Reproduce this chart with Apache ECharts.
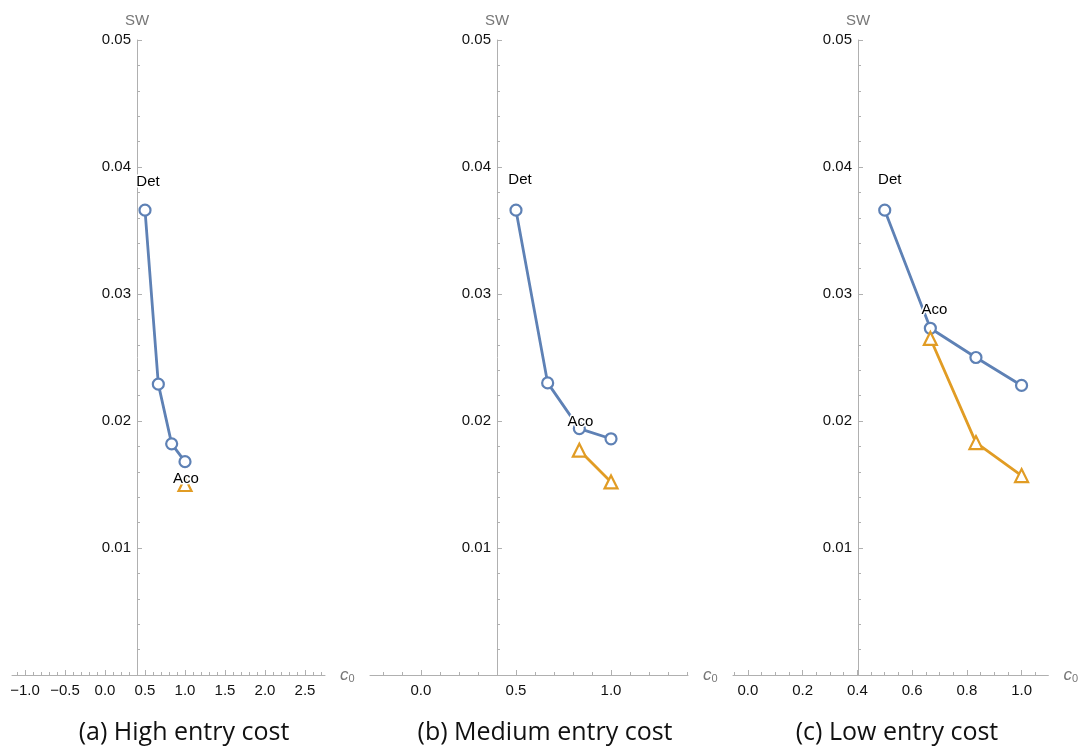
<!DOCTYPE html>
<html><head><meta charset="utf-8">
<script src="https://cdn.jsdelivr.net/npm/echarts@6/dist/echarts.min.js"></script>
<style>html,body{margin:0;padding:0;background:#fff}#c{width:1081px;height:751px}</style>
</head><body><div id="c"></div>
<script>
// ---- data (c0 on x, SW on y) ----
const detC_A = [0.5, 0.6667, 0.8333, 1.0];
const detSW_A = [0.0366, 0.0229, 0.0182, 0.0168];
const acoC_A = [1.0];
const acoSW_A = [0.0150];

const detC_B = [0.5, 0.6667, 0.8333, 1.0];
const detSW_B = [0.0366, 0.0230, 0.0194, 0.0186];
const acoC_B = [0.8333, 1.0];
const acoSW_B = [0.0177, 0.0152];

const detC_C = [0.5, 0.6667, 0.8333, 1.0];
const detSW_C = [0.0366, 0.0273, 0.0250, 0.0228];
const acoC_C = [0.6667, 0.8333, 1.0];
const acoSW_C = [0.0265, 0.0183, 0.0157];

// ---- tick labels ----
const yTickLabels = [0.01, 0.02, 0.03, 0.04, 0.05];
const xMajorA = [-1.0, -0.5, 0.0, 0.5, 1.0, 1.5, 2.0, 2.5];
const xMajorB = [0.0, 0.5, 1.0];
const xMajorC = [0.0, 0.2, 0.4, 0.6, 0.8, 1.0];
const captions = ['(a) High entry cost', '(b) Medium entry cost', '(c) Low entry cost'];
const seriesNames = ['Det', 'Aco'];

// ---- layout / style ----
const BLUE = '#5e81b5', ORANGE = '#e19c24', AXIS = '#b0b0b0', TXT = '#111', NAME = '#777';
const panels = [
  {detC: detC_A, detSW: detSW_A, acoC: acoC_A, acoSW: acoSW_A, major: xMajorA, minorStep: 0.1,
   min: -1.1625, max: 2.75, left: 12, width: 313, detOff: [3, -9], acoOff: [1, 14], cap: 184},
  {detC: detC_B, detSW: detSW_B, acoC: acoC_B, acoSW: acoSW_B, major: xMajorB, minorStep: 0.1,
   min: -0.268, max: 1.405, left: 370, width: 318, detOff: [4, -11], acoOff: [1, -8], cap: 545},
  {detC: detC_C, detSW: detSW_C, acoC: acoC_C, acoSW: acoSW_C, major: xMajorC, minorStep: 0.05,
   min: -0.0545, max: 1.098, left: 733, width: 317, detOff: [5, -11], acoOff: [4, -8], cap: 897}
];
const Y_CROSS = 0.4;
const FONT = 'Liberation Sans';

function minorTicks(min, max, step) {
  const out = [];
  for (let k = Math.ceil(min / step - 1e-9); k * step <= max + 1e-9; k++) out.push(+(k * step).toFixed(4));
  return out;
}
const fmt1 = v => v.toFixed(1).replace('-', '\u2212');

const grid = [], xAxis = [], yAxis = [], series = [], graphic = [];
panels.forEach((p, i) => {
  grid.push({left: p.left, width: p.width, top: 40, height: 635, containLabel: false});
  const yOff = (Y_CROSS - p.min) / (p.max - p.min) * p.width;
  xAxis.push({
    gridIndex: i, type: 'value', min: p.min, max: p.max, position: 'bottom',
    axisLine: {show: true, onZero: false, lineStyle: {color: AXIS, width: 1}},
    axisTick: {show: true, inside: true, length: 5, customValues: p.major, lineStyle: {color: AXIS}},
    axisLabel: {show: true, customValues: p.major, formatter: fmt1, fontSize: 15, fontFamily: FONT, color: TXT, margin: 8},
    splitLine: {show: false},
    name: '{c|c}{s|0}', nameLocation: 'end', nameGap: 15,
    nameTextStyle: {color: NAME, rich: {
      c: {fontFamily: FONT, fontStyle: 'italic', fontSize: 17, color: NAME},
      s: {fontFamily: FONT, fontSize: 11, color: NAME, padding: [7, 0, 0, 0]}
    }}
  });
  xAxis.push({
    gridIndex: i, type: 'value', min: p.min, max: p.max, position: 'bottom',
    axisLine: {show: false, onZero: false},
    axisTick: {show: true, inside: true, length: 3, customValues: minorTicks(p.min, p.max, p.minorStep), lineStyle: {color: AXIS}},
    axisLabel: {show: false}, splitLine: {show: false}
  });
  yAxis.push({
    gridIndex: i, type: 'value', min: 0, max: 0.05, interval: 0.01, position: 'left', offset: -yOff,
    axisLine: {show: true, onZero: false, lineStyle: {color: AXIS, width: 1}},
    axisTick: {show: true, inside: true, length: 5, lineStyle: {color: AXIS}},
    minorTick: {show: true, splitNumber: 5, length: 3, lineStyle: {color: AXIS}},
    axisLabel: {formatter: v => (yTickLabels.some(t => Math.abs(t - v) < 1e-9) ? v.toFixed(2) : ''),
                fontSize: 15, fontFamily: FONT, color: TXT, margin: 6},
    splitLine: {show: false},
    name: 'SW', nameLocation: 'end', nameGap: 12,
    nameTextStyle: {color: NAME, fontSize: 15, fontFamily: FONT}
  });
  const lbl = (text, off) => ({show: true, formatter: text, position: 'top', offset: off,
    fontSize: 15, fontFamily: FONT, color: '#000', textBorderColor: '#fff', textBorderWidth: 3});
  const detData = p.detC.map((c, k) => k === 0 ? {value: [c, p.detSW[k]], label: lbl(seriesNames[0], p.detOff)} : [c, p.detSW[k]]);
  const acoData = p.acoC.map((c, k) => k === 0 ? {value: [c, p.acoSW[k]], label: lbl(seriesNames[1], p.acoOff)} : [c, p.acoSW[k]]);
  series.push({
    type: 'line', name: seriesNames[0], xAxisIndex: 2 * i, yAxisIndex: i, data: detData,
    symbol: 'circle', symbolSize: 11, showAllSymbol: true, z: 3,
    lineStyle: {color: BLUE, width: 2.8}, itemStyle: {color: '#fff', borderColor: BLUE, borderWidth: 2.2},
    emphasis: {disabled: true}, animation: false
  });
  series.push({
    type: 'line', name: seriesNames[1], xAxisIndex: 2 * i, yAxisIndex: i, data: acoData,
    symbol: 'triangle', symbolSize: 13, showAllSymbol: true, z: 4,
    lineStyle: {color: ORANGE, width: 2.8}, itemStyle: {color: '#fff', borderColor: ORANGE, borderWidth: 2.2},
    emphasis: {disabled: true}, animation: false
  });
  graphic.push({type: 'text', x: p.cap, y: 733, style: {text: captions[i], textAlign: 'center', textVerticalAlign: 'middle',
    font: '25px "Open Sans"', fill: '#111'}});
});

const chart = echarts.init(document.getElementById('c'), null, {renderer: 'canvas'});
chart.setOption({animation: false, backgroundColor: '#fff', grid, xAxis, yAxis, series, graphic});
</script></body></html>
